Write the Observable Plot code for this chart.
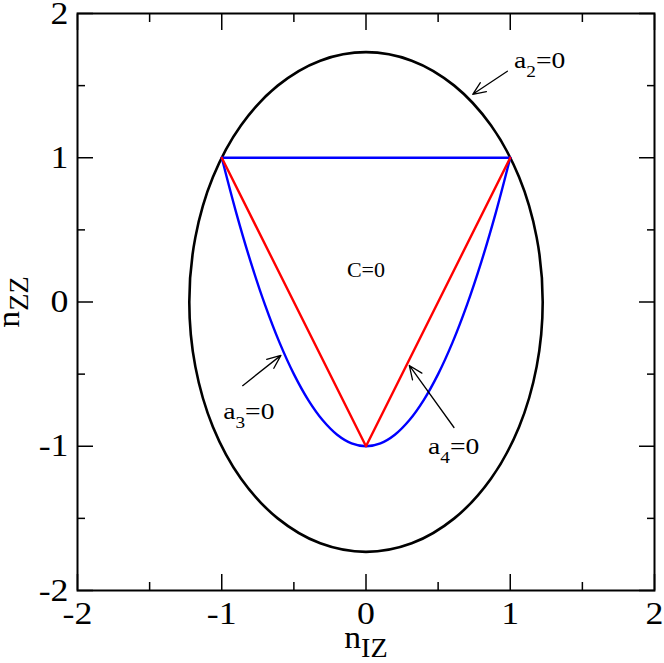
<!DOCTYPE html>
<html>
<head>
<meta charset="utf-8">
<script src="https://cdn.jsdelivr.net/npm/d3@7"></script>
<script src="https://cdn.jsdelivr.net/npm/@observablehq/plot@0.6"></script>
<style>
  html, body { margin: 0; padding: 0; background: #fff; }
</style>
</head>
<body>
<div id="chart"></div>
<script>
// ---- data ----
const majorTicks = [-2, -1, 0, 1, 2];
const minorTicks = [-1.5, -0.5, 0.5, 1.5];

// black ellipse (a2 = 0)
const ellipseX = [1.225, 1.183, 1.061, 0.866, 0.612, 0.317, 0, -0.317, -0.612, -0.866, -1.061, -1.183,
                  -1.225, -1.183, -1.061, -0.866, -0.612, -0.317, 0, 0.317, 0.612, 0.866, 1.061, 1.183];
const ellipseY = [0, 0.448, 0.866, 1.225, 1.5, 1.673, 1.732, 1.673, 1.5, 1.225, 0.866, 0.448,
                  0, -0.448, -0.866, -1.225, -1.5, -1.673, -1.732, -1.673, -1.5, -1.225, -0.866, -0.448];

// blue curve (a3 = 0 / a4 = 0 boundary)
const blueX = [-1, -0.9, -0.8, -0.7, -0.6, -0.5, -0.4, -0.3, -0.2, -0.1, 0, 0.1, 0.2, 0.3, 0.4, 0.5, 0.6, 0.7, 0.8, 0.9, 1];
const blueY = [1, 0.62, 0.28, -0.02, -0.28, -0.5, -0.68, -0.82, -0.92, -0.98, -1, -0.98, -0.92, -0.82, -0.68, -0.5, -0.28, -0.02, 0.28, 0.62, 1];
// blue top segment
const blueTopX = [-1, 1];
const blueTopY = [1, 1];

// red V
const redX = [-1, 0, 1];
const redY = [1, -1, 1];

// annotation arrows
const arrowX1 = [0.98, -0.855, 0.61];
const arrowY1 = [1.60, -0.58, -0.87];
const arrowX2 = [0.74, -0.59, 0.30];
const arrowY2 = [1.44, -0.37, -0.44];

// annotation labels
const labelText = ["a_{2}=0", "a_{3}=0", "a_{4}=0"];
const labelX = [1.026, -0.99, 0.43];
const labelY = [1.674, -0.76, -1.0];

const centerLabel = ["C=0"];
const centerX = [0];
const centerY = [0.218];

const xAxisLabel = ["n_{IZ}"];
const yAxisLabel = ["n_{ZZ}"];

// ---- build tables ----
const ellipse = ellipseX.map((x, i) => ({x, y: ellipseY[i]}));
const blue = blueX.map((x, i) => ({x, y: blueY[i]}));
const blueTop = blueTopX.map((x, i) => ({x, y: blueTopY[i]}));
const red = redX.map((x, i) => ({x, y: redY[i]}));
const arrows = arrowX1.map((x1, i) => ({x1, y1: arrowY1[i], x2: arrowX2[i], y2: arrowY2[i]}));
const labels = labelText.map((t, i) => ({t, x: labelX[i], y: labelY[i]}));
const center = centerLabel.map((t, i) => ({t, x: centerX[i], y: centerY[i]}));

const fmt = d => String(d);
const blank = () => "";
const serif = "Liberation Serif";

const chart = Plot.plot({
  width: 664,
  height: 663,
  marginLeft: 77,
  marginRight: 10,
  marginTop: 13,
  marginBottom: 73,
  x: {domain: [-2, 2]},
  y: {domain: [-2, 2]},
  style: "font-family: 'Liberation Serif', serif; font-size: 32px; background: #fff; color: #000;",
  marks: [
    // curves
    Plot.line(ellipse, {x: "x", y: "y", curve: "catmull-rom-closed", stroke: "#000", strokeWidth: 2.6}),
    Plot.line(blue, {x: "x", y: "y", curve: "catmull-rom", stroke: "#0000ff", strokeWidth: 2.4}),
    Plot.line(blueTop, {x: "x", y: "y", stroke: "#0000ff", strokeWidth: 2.4}),
    Plot.line(red, {x: "x", y: "y", stroke: "#ff0000", strokeWidth: 2.4}),
    // arrows
    Plot.arrow(arrows, {x1: "x1", y1: "y1", x2: "x2", y2: "y2", stroke: "#000", strokeWidth: 1.3, headLength: 17, headAngle: 46}),
    // annotations
    Plot.text(labels, {x: "x", y: "y", text: "t", textAnchor: "start", lineAnchor: "middle", fontSize: 24, fontFamily: serif, className: "lbl-anno"}),
    Plot.text(center, {x: "x", y: "y", text: "t", textAnchor: "middle", lineAnchor: "middle", fontSize: 21, fontFamily: serif, className: "lbl-center"}),
    // frame
    Plot.frame({stroke: "#000", strokeWidth: 2}),
    // inward ticks, all sides
    Plot.axisX(majorTicks, {anchor: "bottom", tickSize: -16, tickFormat: blank, label: null, strokeWidth: 1.5}),
    Plot.axisX(minorTicks, {anchor: "bottom", tickSize: -8, tickFormat: blank, label: null, strokeWidth: 1.5}),
    Plot.axisX(majorTicks, {anchor: "top", tickSize: -16, tickFormat: blank, label: null, strokeWidth: 1.5}),
    Plot.axisX(minorTicks, {anchor: "top", tickSize: -8, tickFormat: blank, label: null, strokeWidth: 1.5}),
    Plot.axisY(majorTicks, {anchor: "left", tickSize: -16, tickFormat: blank, label: null, strokeWidth: 1.5}),
    Plot.axisY(minorTicks, {anchor: "left", tickSize: -8, tickFormat: blank, label: null, strokeWidth: 1.5}),
    Plot.axisY(majorTicks, {anchor: "right", tickSize: -16, tickFormat: blank, label: null, strokeWidth: 1.5}),
    Plot.axisY(minorTicks, {anchor: "right", tickSize: -8, tickFormat: blank, label: null, strokeWidth: 1.5}),
    // tick labels
    Plot.axisX(majorTicks, {anchor: "bottom", tickSize: 0, tickPadding: 11, tickFormat: fmt, label: null, fontSize: 32, fontFamily: serif, className: "lbl-tick"}),
    Plot.axisY(majorTicks, {anchor: "left", tickSize: 0, tickPadding: 9, tickFormat: fmt, label: null, fontSize: 32, fontFamily: serif, className: "lbl-tick"}),
    // axis titles
    Plot.text(xAxisLabel, {frameAnchor: "bottom", text: d => d, dy: 57, lineAnchor: "bottom", textAnchor: "middle", fontSize: 32, fontFamily: serif, className: "lbl-title"}),
    Plot.text(yAxisLabel, {frameAnchor: "left", text: d => d, dx: -59, rotate: -90, lineAnchor: "bottom", textAnchor: "middle", fontSize: 32, fontFamily: serif, className: "lbl-title"})
  ]
});

// force the serif face on every text node
chart.querySelectorAll("g[font-family]").forEach(g => g.setAttribute("font-family", serif));
chart.querySelectorAll("text").forEach(el => el.setAttribute("font-family", serif));

// subscripts: turn "a_{2}=0" into tspans
const SVGNS = "http://www.w3.org/2000/svg";
chart.querySelectorAll("text").forEach(el => {
  const s = el.textContent;
  const m = s.match(/^(.*?)_\{(.*?)\}(.*)$/);
  if (!m) return;
  const g = el.closest("g[font-size]");
  const base = g ? parseFloat(g.getAttribute("font-size")) : 32;
  const big = base >= 28;
  const subSize = big ? base * 0.84 : base * 0.7;
  const shift = big ? base * 0.3 : base * 0.38;
  el.textContent = "";
  const t1 = document.createElementNS(SVGNS, "tspan");
  t1.textContent = m[1];
  const t2 = document.createElementNS(SVGNS, "tspan");
  t2.textContent = m[2];
  t2.setAttribute("font-size", subSize);
  t2.setAttribute("dy", shift);
  el.appendChild(t1);
  el.appendChild(t2);
  if (m[3]) {
    const t3 = document.createElementNS(SVGNS, "tspan");
    t3.textContent = m[3];
    t3.setAttribute("dy", -shift);
    el.appendChild(t3);
  }
});

// the reference glyphs are a little wider than Times: stretch horizontally about each anchor
function stretch(sel, sx) {
  chart.querySelectorAll(sel).forEach(el => {
    const tr = el.getAttribute("transform");
    if (tr && tr.includes("translate")) el.setAttribute("transform", tr + ` scale(${sx},1)`);
  });
}
stretch(".lbl-tick text", 1.12);
stretch(".lbl-anno text", 1.15);
stretch(".lbl-center text", 1.05);
stretch(".lbl-title text", 1.05);

document.getElementById("chart").appendChild(chart);
</script>
</body>
</html>
